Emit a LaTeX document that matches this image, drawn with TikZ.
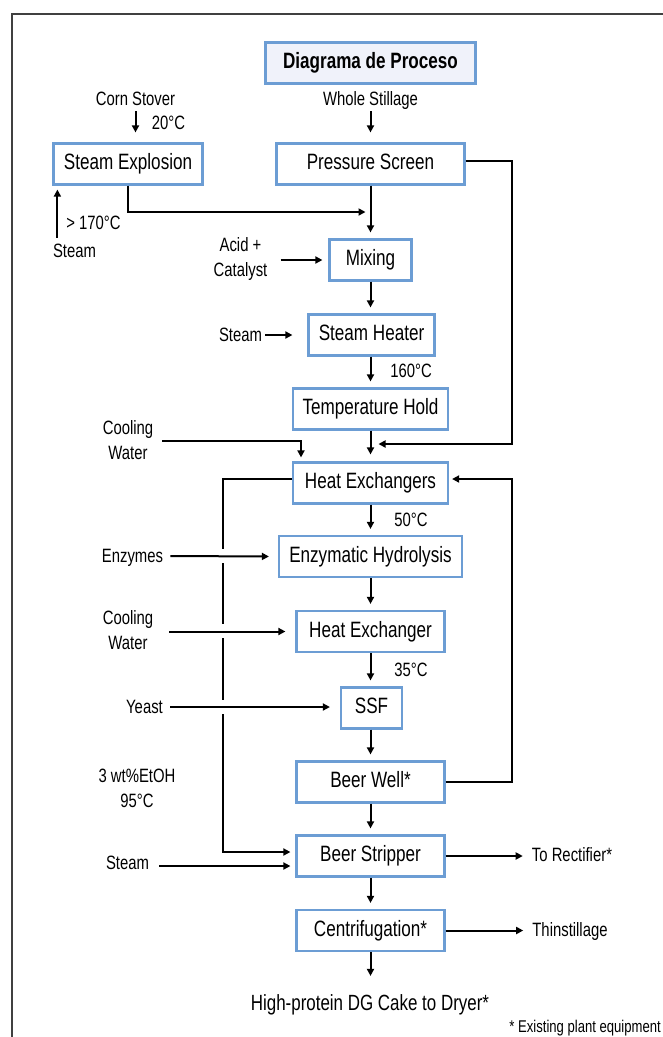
\documentclass[tikz,border=0pt]{standalone}
\usepackage{fontspec}
\setmainfont{Liberation Sans}[FakeStretch=0.77]
\usetikzlibrary{arrows.meta,calc}
\definecolor{boxblue}{RGB}{108,157,212}
\definecolor{titlefill}{RGB}{240,242,250}
\definecolor{framegray}{RGB}{64,64,64}
\tikzset{
  box/.style={draw=boxblue, line width=2.2pt, fill=white, minimum height=41pt, inner sep=0pt,
    text height=15.9pt, text depth=4.7pt, font=\fontsize{22.2}{26}\selectfont},
  lbl/.style={inner sep=0pt, font=\fontsize{19.3}{25}\selectfont, text height=13.8pt, text depth=0pt},
  lbltwo/.style={inner sep=0pt, font=\fontsize{19.3}{25}\selectfont, align=center},
  arr/.style={line width=2pt, -{Triangle[length=7pt,width=7pt]}},
  bridge/.style={fill=white, draw=none},
}
\begin{document}
\begin{tikzpicture}[x=1pt,y=-1pt]
\useasboundingbox (0,0) rectangle (662,1037);
\draw[framegray, line width=2pt] (12,1040) -- (12,14) -- (665,14);

% boxes
\node[box, fill=titlefill, minimum width=210pt, font=\bfseries\fontsize{22.2}{26}\selectfont] (title) at (370.5,63) {Diagrama de Proceso};
\node[box, minimum width=149pt] (steamexp) at (128,164) {Steam Explosion};
\node[box, minimum width=188pt] (pscreen) at (370.5,164) {Pressure Screen};
\node[box, minimum width=82pt] (mixing) at (370.5,260) {Mixing};
\node[box, minimum width=126pt] (sheater) at (371.5,335) {Steam Heater};
\node[box, minimum width=155pt] (thold) at (370.5,409) {Temperature Hold};
\node[box, minimum width=155pt] (hx1) at (370.5,483) {Heat Exchangers};
\node[box, minimum width=183pt] (enz) at (370.5,556.5) {Enzymatic Hydrolysis};
\node[box, minimum width=148pt] (hx2) at (370.5,631.5) {Heat Exchanger};
\node[box, minimum width=61pt] (ssf) at (371.5,708) {SSF};
\node[box, minimum width=148pt] (beerwell) at (370.5,782) {Beer Well*};
\node[box, minimum width=148pt] (stripper) at (370.5,856) {Beer Stripper};
\node[box, minimum width=148pt] (centrif) at (370.5,930.5) {Centrifugation*};

% labels
\node[lbl] (cs) at (135.5,99) {Corn Stover};
\node[lbl] (t20) at (168.5,123) {20°C};
\node[lbl] (ws) at (370.5,99) {Whole Stillage};
\node[lbl] (steamA) at (74.5,251) {Steam};
\node[lbl] (t170) at (93.5,223) {> 170°C};
\node[lbltwo] (acid) at (240.5,259.5) {Acid +\\Catalyst};
\node[lbl] (steamB) at (240.5,335) {Steam};
\node[lbl] (t160) at (411,371) {160°C};
\node[lbltwo] (cw1) at (128,440.5) {Cooling\\Water};
\node[lbl] (t50) at (411,520) {50°C};
\node[lbl] (enzl) at (132.5,556) {Enzymes};
\node[lbltwo] (cw2) at (128,630.5) {Cooling\\Water};
\node[lbl] (t35) at (411,670) {35°C};
\node[lbl] (yeast) at (144.5,707) {Yeast};
\node[lbltwo] (etoh) at (137,788) {3 wt\%EtOH\\95°C};
\node[lbl] (steamC) at (127.5,863) {Steam};
\node[lbl] (rect) at (572,855) {To Rectifier*};
\node[lbl] (thin) at (570,930) {Thinstillage};
\node[lbl, font=\fontsize{22}{26}\selectfont, text height=15.8pt] (cake) at (370,1003) {High-protein DG Cake to Dryer*};
\node[lbl, font=\fontsize{17}{20}\selectfont, text height=12.2pt, anchor=east] (note) at (661,1026) {* Existing plant equipment};

% feed arrows at top
\draw[arr, shorten <=5pt, shorten >=10pt] (cs.south) -- (cs.south |- steamexp.north);
\draw[arr, shorten <=5pt, shorten >=10pt] (ws.south) -- (ws.south |- pscreen.north);
\draw[arr] ($(steamexp.south west)+(5,52)$) -- ($(steamexp.south west)+(5,4)$);
\draw[arr, shorten >=5pt] (steamexp.south) |- (pscreen.south |- 0,212);
\draw[arr, shorten >=6pt] (pscreen.south) -- (mixing.north);
\draw[arr, shorten >=8pt] ([yshift=3pt]pscreen.east) -| (512,444) -- (thold.south |- 0,444);
\draw[arr, shorten <=13pt, shorten >=6pt] (acid.east |- mixing.west) -- (mixing.west);
\draw[arr, shorten >=6pt] (mixing.south) -- (sheater.north -| mixing.south);
\draw[arr, shorten <=3pt, shorten >=15pt] (steamB.east) -- (sheater.west);
\draw[arr, shorten >=6pt] (sheater.south -| thold.north) -- (thold.north);
\draw[arr, shorten >=7pt] (thold.south) -- (hx1.north);
\draw[arr, shorten <=9pt, shorten >=4pt] (cw1.east) -| ([xshift=-69.5pt]hx1.north);
\draw[arr, shorten >=6pt] (hx1.south) -- (enz.north);

% loops
\draw[arr, shorten >=5pt] ([yshift=4pt]hx1.west) -| (223,852) -- (stripper.west |- 0,852);
\draw[arr, shorten >=3pt] (beerwell.east) -| (512,479) -- (hx1.east |- 0,479);
\fill[bridge] (219,549) rectangle (227,563);
\fill[bridge] (219,624) rectangle (227,638);
\fill[bridge] (219,700) rectangle (227,714);

% side feeds
\draw[arr, shorten <=7pt, shorten >=9pt] (enzl.east) -- (enz.west);
\draw[arr, shorten >=6pt] (enz.south) -- (hx2.north);
\draw[arr, shorten <=16pt, shorten >=10pt] (cw2.east |- hx2.west) -- (hx2.west);
\draw[arr, shorten >=6pt] (hx2.south) -- (hx2.south |- ssf.north);
\draw[arr, shorten <=7pt, shorten >=10pt] (yeast.east) -- (yeast.east -| ssf.west);
\draw[arr, shorten >=6pt] (ssf.south -| beerwell.north) -- (beerwell.north);
\draw[arr, shorten >=6pt] (beerwell.south) -- (stripper.north);
\draw[arr, shorten <=10pt, shorten >=5pt] ([yshift=-3pt]steamC.east) -- ([yshift=-3pt]steamC.east -| stripper.west);
\draw[arr, shorten >=9pt] (stripper.east) -- (stripper.east -| rect.west);
\draw[arr, shorten >=6pt] (stripper.south) -- (centrif.north);
\draw[arr, shorten >=9pt] (centrif.east) -- (centrif.east -| thin.west);
\draw[arr, shorten >=19pt] (centrif.south) -- (centrif.south |- cake.north);
\end{tikzpicture}
\end{document}
